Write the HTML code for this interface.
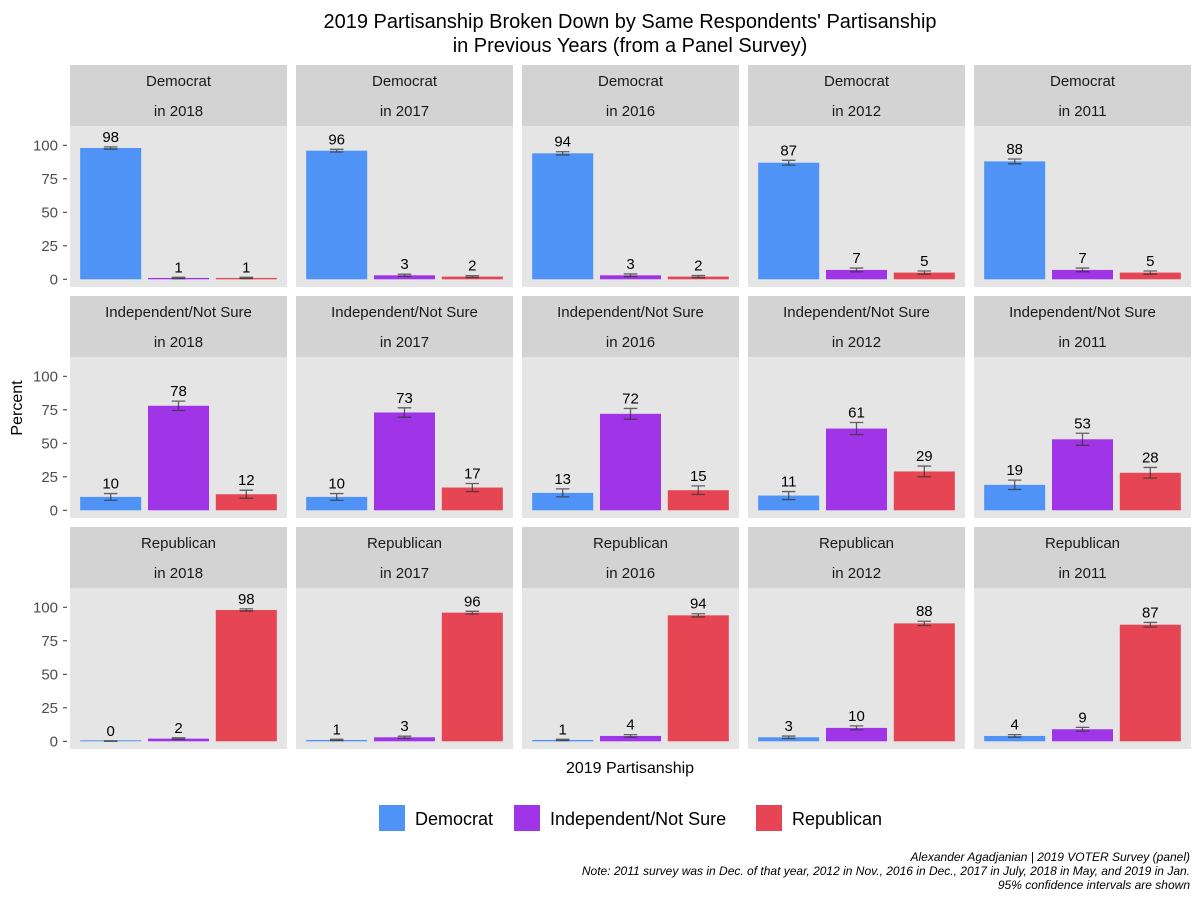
<!DOCTYPE html>
<html><head><meta charset="utf-8"><style>
html,body{margin:0;padding:0;background:#fff;}
svg{display:block;font-family:"Liberation Sans",Arial,sans-serif;}
</style></head><body>
<svg id="chart" width="1200" height="900" viewBox="0 0 1200 900">
<text x="630" y="28" text-anchor="middle" font-size="20" fill="#000">2019 Partisanship Broken Down by Same Respondents' Partisanship</text>
<text x="630" y="52" text-anchor="middle" font-size="20" fill="#000">in Previous Years (from a Panel Survey)</text>
<text transform="translate(22,408) rotate(-90)" text-anchor="middle" font-size="16" fill="#000">Percent</text>
<text x="630" y="773" text-anchor="middle" font-size="16" fill="#000">2019 Partisanship</text>
<g>
<rect x="379" y="805" width="26" height="26" fill="#4E93F5"/>
<text x="415" y="825" font-size="18">Democrat</text>
<rect x="514" y="805" width="26" height="26" fill="#A035E8"/>
<text x="550" y="825" font-size="18">Independent/Not Sure</text>
<rect x="756" y="805" width="26" height="26" fill="#E64653"/>
<text x="792" y="825" font-size="18">Republican</text>
</g>
<g font-size="12" font-style="italic" text-anchor="end" fill="#000">
<text x="1190" y="861">Alexander Agadjanian | 2019 VOTER Survey (panel)</text>
<text x="1190" y="875">Note: 2011 survey was in Dec. of that year, 2012 in Nov., 2016 in Dec., 2017 in July, 2018 in May, and 2019 in Jan.</text>
<text x="1190" y="889">95% confidence intervals are shown</text>
</g>
</svg>
<script>
const rowLabels = ["Democrat","Independent/Not Sure","Republican"];
const colYears = ["2018","2017","2016","2012","2011"];
const categories = ["Democrat","Independent/Not Sure","Republican"];
const yTicks = [0,25,50,75,100];
const valsDem = [[98,1,1],[96,3,2],[94,3,2],[87,7,5],[88,7,5]];
const valsInd = [[10,78,12],[10,73,17],[13,72,15],[11,61,29],[19,53,28]];
const valsRep = [[0,2,98],[1,3,96],[1,4,94],[3,10,88],[4,9,87]];
const errDem = [[0.8,0.5,0.5],[1,0.8,0.7],[1.2,1,0.8],[1.8,1.4,1.2],[1.8,1.4,1.2]];
const errInd = [[2.5,3.5,3],[2.5,3.5,3],[3,4,3.2],[3,4.5,4],[3.5,4.5,4]];
const errRep = [[0.3,0.6,0.8],[0.5,0.8,1],[0.5,1,1.2],[0.9,1.5,1.6],[1,1.4,1.7]];
const values = [valsDem, valsInd, valsRep];
const errs = [errDem, errInd, errRep];
const colors = ["#4E93F5","#A035E8","#E64653"];

const svg = document.getElementById('chart');
const NS = "http://www.w3.org/2000/svg";
function mk(tag, attrs, parent){const e=document.createElementNS(NS,tag);for(const k in attrs)e.setAttribute(k,attrs[k]);(parent||svg).appendChild(e);return e;}
const colLeft=[70,296,522,748,974], panelW=217, stripTop=[65,296,527], stripH=61, plotH=161;
function yScale(r,v){return stripTop[r]+stripH+plotH-7.7-v*1.34;}
const unit=panelW/3.2;
function xScale(c,i){return colLeft[c]+(0.6+i)*unit;}

for(let r=0;r<3;r++){
  const pt=stripTop[r]+stripH;
  yTicks.forEach(t=>{
    const y=yScale(r,t);
    const tl=mk('text',{x:58,y:y+5,'text-anchor':'end','font-size':15,fill:'#4D4D4D'});
    tl.textContent=t;
    
    
    const tm=mk('line',{x1:63,x2:67,y1:y,y2:y,stroke:'#333','stroke-width':1});
    
    
  });
  for(let c=0;c<5;c++){
    const x0=colLeft[c];
    const st=mk('rect',{x:x0,y:stripTop[r],width:panelW,height:stripH,fill:'#D3D3D3'});
    
    
    const s1=mk('text',{x:x0+panelW/2,y:stripTop[r]+21,'text-anchor':'middle','font-size':15,fill:'#1A1A1A'});
    s1.textContent=rowLabels[r];
    
    
    const s2=mk('text',{x:x0+panelW/2,y:stripTop[r]+51,'text-anchor':'middle','font-size':15,fill:'#1A1A1A'});
    s2.textContent='in '+colYears[c];
    
    
    const bg=mk('rect',{x:x0,y:pt,width:panelW,height:plotH,fill:'#E5E5E5'});
    
    
    for(let i=0;i<3;i++){
      const v=values[r][c][i], e=errs[r][c][i], cx=xScale(c,i), bw=unit*0.9;
      const y0=yScale(r,0), y1=yScale(r,v);
      const b=mk('rect',{x:cx-bw/2,y:Math.min(y1,y0-1),width:bw,height:Math.max(y0-y1,1),fill:colors[i]});
      
      
      const ylo=yScale(r,Math.max(0,v-e)), yhi=yScale(r,v+e), hw=unit*0.1;
      const eb=mk('path',{d:`M${cx-hw},${yhi}H${cx+hw}M${cx},${yhi}V${ylo}M${cx-hw},${ylo}H${cx+hw}`,stroke:'#333','stroke-opacity':0.75,'stroke-width':1.3,fill:'none'});
      
      
      const lb=mk('text',{x:cx,y:yhi-5,'text-anchor':'middle','font-size':15,fill:'#000'});
      lb.textContent=v;
      
      
    }
  }
}
</script>
</body></html>
